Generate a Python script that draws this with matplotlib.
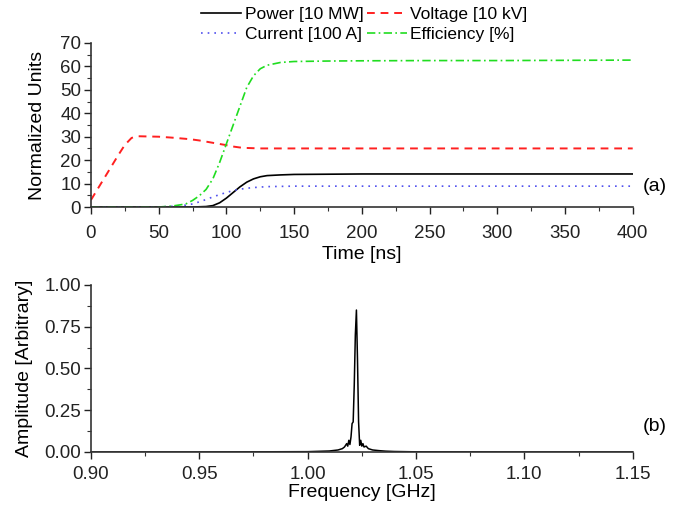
import numpy as np
import matplotlib.pyplot as plt
from matplotlib.ticker import MultipleLocator

plt.rcParams['font.family'] = ['Liberation Sans', 'DejaVu Sans']

# time-domain data
t = [0, 10, 20, 25, 30, 35, 50, 60, 70, 75, 80, 85, 90, 95, 100, 105, 110, 115,
     120, 125, 130, 140, 150, 175, 200, 250, 300, 350, 400]
power = [0, 0, 0, 0, 0, 0, 0, 0, 0, 0, 0.1, 0.2, 0.6, 1.8, 3.8, 6.2, 8.6, 10.6,
         12.0, 12.9, 13.4, 13.7, 13.9, 14.0, 14.1, 14.1, 14.1, 14.1, 14.1]
current = [0, 0, 0, 0, 0, 0, 0, 0.3, 0.8, 1.3, 2.2, 3.2, 4.3, 5.3, 6.2, 7.0, 7.6, 8.0,
           8.3, 8.5, 8.7, 8.8, 8.9, 8.9, 8.9, 8.9, 8.9, 8.9, 8.9]
efficiency = [0, 0, 0, 0, 0, 0, 0, 0.4, 1.3, 2.8, 4.8, 7.5, 12.0, 19.0, 27.0, 35.0, 43.0, 51.0,
              56.0, 59.0, 60.5, 61.7, 62.1, 62.3, 62.4, 62.5, 62.5, 62.6, 62.7]
voltage = [3.0, 12.5, 22.0, 26.5, 29.5, 30.2, 30.0, 29.6, 29.1, 28.8, 28.4, 27.9, 27.4, 26.9, 26.4, 25.8, 25.4, 25.2,
           25.1, 25.0, 25.0, 25.0, 25.0, 25.0, 25.0, 25.0, 25.0, 25.0, 25.0]

# spectrum data
freq = [0.900, 0.950, 1.000, 1.010, 1.014, 1.016, 1.017, 1.018, 1.0185, 1.019, 1.0195, 1.020,
        1.0205, 1.021, 1.0215, 1.0220, 1.0225, 1.0230, 1.0235, 1.024, 1.0245, 1.025,
        1.0255, 1.026, 1.027, 1.028, 1.030, 1.033, 1.036, 1.040, 1.050, 1.100, 1.150]
amp = [0.0, 0.0, 0.002, 0.006, 0.012, 0.02, 0.03, 0.05, 0.035, 0.07, 0.045, 0.09,
       0.17, 0.18, 0.40, 0.70, 0.85, 0.55, 0.18, 0.04, 0.07, 0.035,
       0.05, 0.03, 0.035, 0.02, 0.012, 0.008, 0.005, 0.003, 0.001, 0.0, 0.0]

fig = plt.figure(figsize=(6.84, 5.07), dpi=100)
ax1 = fig.add_axes([0.133, 0.5917, 0.792, 0.3235])
ax2 = fig.add_axes([0.133, 0.1085, 0.792, 0.3294])

l_p, = ax1.plot(t, power, color='black', lw=1.2, label='Power [10 MW]')
l_v, = ax1.plot(t, voltage, color='#ff2020', lw=1.4, ls=(0, (4, 3)), label='Voltage [10 kV]')
l_c, = ax1.plot(t, current, color='#5050ee', lw=1.2, ls=(0, (1, 3)), label='Current [100 A]')
l_e, = ax1.plot(t, efficiency, color='#20dd20', lw=1.2, ls=(0, (5, 2, 1, 2)), label='Efficiency [%]')

ax1.set_xlim(0, 400)
ax1.set_ylim(0, 70)
ax1.xaxis.set_major_locator(MultipleLocator(50))
ax1.xaxis.set_minor_locator(MultipleLocator(25))
ax1.yaxis.set_major_locator(MultipleLocator(10))
ax1.yaxis.set_minor_locator(MultipleLocator(5))
ax1.set_xlabel('Time [ns]', fontsize=14, labelpad=3)
ax1.set_ylabel('Normalized Units', fontsize=14, labelpad=10)
ax1.text(1.018, 0.125, '(a)', transform=ax1.transAxes, fontsize=14, va='center')

fig.legend(handles=[l_p, l_c, l_v, l_e], ncol=2, loc='upper center',
           bbox_to_anchor=(0.533, 0.993), frameon=False, fontsize=12.5,
           handlelength=2.3, handletextpad=0.2, columnspacing=0.2,
           labelspacing=0.27, borderpad=0.2, borderaxespad=0.0)

ax2.plot(freq, amp, color='black', lw=1.1)
ax2.set_xlim(0.90, 1.15)
ax2.set_ylim(0, 1.0)
ax2.xaxis.set_major_locator(MultipleLocator(0.05))
ax2.xaxis.set_minor_locator(MultipleLocator(0.025))
ax2.yaxis.set_major_locator(MultipleLocator(0.25))
ax2.yaxis.set_minor_locator(MultipleLocator(0.125))
ax2.xaxis.set_major_formatter(plt.FormatStrFormatter('%.2f'))
ax2.yaxis.set_major_formatter(plt.FormatStrFormatter('%.2f'))
ax2.set_xlabel('Frequency [GHz]', fontsize=14, labelpad=1)
ax2.set_ylabel('Amplitude [Arbitrary]', fontsize=14, labelpad=8)
ax2.text(1.018, 0.15, '(b)', transform=ax2.transAxes, fontsize=14, va='center')

for ax in (ax1, ax2):
    ax.spines['top'].set_visible(False)
    ax.spines['right'].set_visible(False)
    for s in ('left', 'bottom'):
        ax.spines[s].set_color('#333333')
        ax.spines[s].set_linewidth(1.2)
    ax.tick_params(which='major', direction='out', length=5, width=1, labelsize=13.5,
                   colors='#222222', pad=2)
    ax.tick_params(which='minor', direction='out', length=3, width=0.8, colors='#333333')
ax1.tick_params(axis='x', which='major', pad=8)
ax2.tick_params(axis='x', which='major', pad=5)

fig.savefig('out.png', dpi=100)
